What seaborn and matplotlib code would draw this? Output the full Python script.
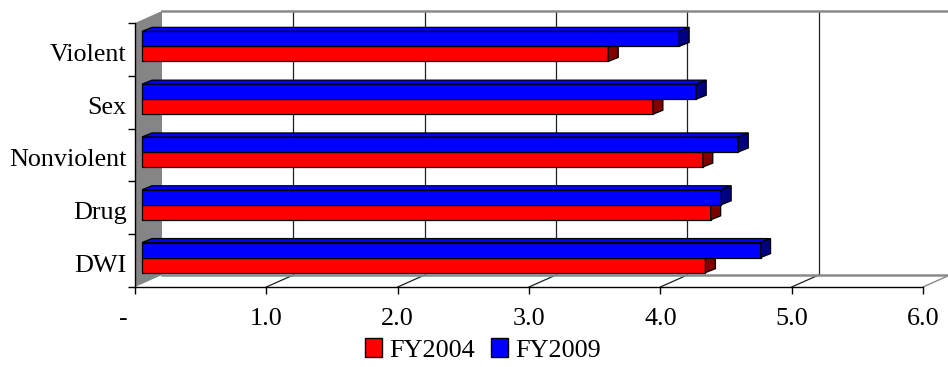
import pandas as pd
import matplotlib
matplotlib.use('Agg')
import matplotlib.pyplot as plt
import matplotlib.transforms as mtrans
import seaborn as sns
from matplotlib.patches import Polygon, Patch

# dados do gráfico
categories = ['Violent', 'Sex', 'Nonviolent', 'Drug', 'DWI']
fy2004 = [3.55, 3.89, 4.27, 4.33, 4.29]
fy2009 = [4.09, 4.22, 4.54, 4.41, 4.71]
x_ticks = [0, 1, 2, 3, 4, 5, 6]
x_labels = ['-', '1.0', '2.0', '3.0', '4.0', '5.0', '6.0']

colors = {'FY2004': '#FF0000', 'FY2009': '#0000FF'}
side_colors = {'FY2004': '#800000', 'FY2009': '#000080'}

df = pd.DataFrame({
    'Category': categories * 2,
    'Value': fy2004 + fy2009,
    'Year': ['FY2004'] * len(categories) + ['FY2009'] * len(categories),
})

plt.rcParams['font.family'] = ['Liberation Serif', 'DejaVu Serif']
FS = 18.8

fig = plt.figure(figsize=(9.48, 3.67), dpi=100)
ax = fig.add_axes([135 / 948, 1 - 287 / 367, 788 / 948, 264 / 367])

sns.barplot(data=df, x='Value', y='Category', hue='Year', order=categories,
            hue_order=['FY2009', 'FY2004'], palette=colors, orient='h',
            width=0.57, saturation=1, edgecolor='black', linewidth=0.9,
            legend=False, ax=ax)

ax.set_xlim(0, 6)
ax.set_ylim(4.5, -0.5)

# conversão pixel -> dados para o efeito 3D
p0 = ax.transData.transform((0, 0))
sx = ax.transData.transform((1, 0))[0] - p0[0]
sy = p0[1] - ax.transData.transform((0, 1))[1]


def off(x, y, dx, dy):
    return (x + dx / sx, y - dy / sy)


WALL = (27, 12)      # profundidade da parede do fundo (px)
BAR_F = (7, 3)       # face frontal das barras
BAR_B = (17, 7)      # face traseira das barras
ymin, ymax = -0.5, 4.5

# parede lateral cinza
wall = Polygon([(0, ymin), (0, ymax), off(0, ymax, *WALL), off(0, ymin, *WALL)],
               closed=True, facecolor='#858585', edgecolor='none', zorder=0.5,
               clip_on=False)
ax.add_patch(wall)

# linhas do fundo e do chão
for k in x_ticks[1:]:
    a = off(k, ymin, *WALL)
    b = off(k, ymax, *WALL)
    ax.plot([a[0], b[0]], [a[1], b[1]], color='#202020', lw=0.9, zorder=0.6, clip_on=False)
    c = off(k, ymax, *WALL)
    ax.plot([k, c[0]], [ymax, c[1]], color='#202020' if k < 6 else '#808080',
            lw=0.9, zorder=0.6, clip_on=False)
a = off(0, ymin, *WALL)
b = off(6, ymin, *WALL)
ax.plot([a[0], b[0]], [a[1], b[1]], color='#8A8A8A', lw=1.8, zorder=0.6, clip_on=False)
a = off(0, ymax, *WALL)
b = off(6, ymax, *WALL)
ax.plot([a[0], b[0]], [a[1], b[1]], color='#8A8A8A', lw=1.8, zorder=0.6, clip_on=False)

# barras com faces superior e lateral
n = len(categories)
for i, bar in enumerate(ax.patches[:2 * n]):
    year = 'FY2009' if i < n else 'FY2004'
    z = 3 if year == 'FY2009' else 2
    x0, y0 = bar.get_x(), bar.get_y()
    w, h = bar.get_width(), bar.get_height()
    fx0, fy0 = off(x0, y0, *BAR_F)
    fx1, fy1 = off(x0 + w, y0 + h, *BAR_F)
    bar.set_xy((fx0, fy0))
    bar.set_width(fx1 - fx0)
    bar.set_height(fy1 - fy0)
    bar.set_zorder(z)
    bar.set_clip_on(False)
    bx0, by0 = off(x0, y0, *BAR_B)
    bx1, by1 = off(x0 + w, y0 + h, *BAR_B)
    top = Polygon([(fx0, fy0), (fx1, fy0), (bx1, by0), (bx0, by0)], closed=True,
                  facecolor=colors[year], edgecolor='black', lw=0.9, zorder=z,
                  clip_on=False)
    side = Polygon([(fx1, fy0), (fx1, fy1), (bx1, by1), (bx1, by0)], closed=True,
                   facecolor=side_colors[year], edgecolor='black', lw=0.9, zorder=z,
                   clip_on=False)
    ax.add_patch(top)
    ax.add_patch(side)

# eixos
for s in ['top', 'right']:
    ax.spines[s].set_visible(False)
for s in ['left', 'bottom']:
    ax.spines[s].set_color('black')
    ax.spines[s].set_linewidth(1)
    ax.spines[s].set_zorder(4)

ax.set_xticks(x_ticks)
ax.set_xticklabels(x_labels)
ax.set_yticks(range(n))
ax.set_yticklabels(categories)
ax.set_yticks([k - 0.5 for k in range(n + 1)], minor=True)
ax.tick_params(axis='x', length=5, width=1, color='black', pad=10, labelsize=FS)
ax.tick_params(axis='y', which='major', length=0, pad=6, labelsize=FS)
ax.tick_params(axis='y', which='minor', length=5, width=1, color='black')
ax.set_xlabel('')
ax.set_ylabel('')

# pequenos ajustes de posição dos rótulos
shift_down = mtrans.ScaledTranslation(0, -3 / 100, fig.dpi_scale_trans)
for lab in ax.get_yticklabels():
    lab.set_transform(lab.get_transform() + shift_down)
zero_lab = ax.get_xticklabels()[0]
zero_lab.set_transform(zero_lab.get_transform() +
                       mtrans.ScaledTranslation(-12 / 100, 0, fig.dpi_scale_trans))

handles = [Patch(facecolor=colors['FY2004'], edgecolor='black', label='FY2004'),
           Patch(facecolor=colors['FY2009'], edgecolor='black', label='FY2009')]
fig.legend(handles=handles, loc='center', bbox_to_anchor=(483 / 948, 1 - 350 / 367),
           ncol=2, frameon=False, fontsize=FS, handlelength=0.65, handleheight=0.7,
           handletextpad=0.3, columnspacing=0.6, borderpad=0)

fig.savefig('out.png', dpi=100)
